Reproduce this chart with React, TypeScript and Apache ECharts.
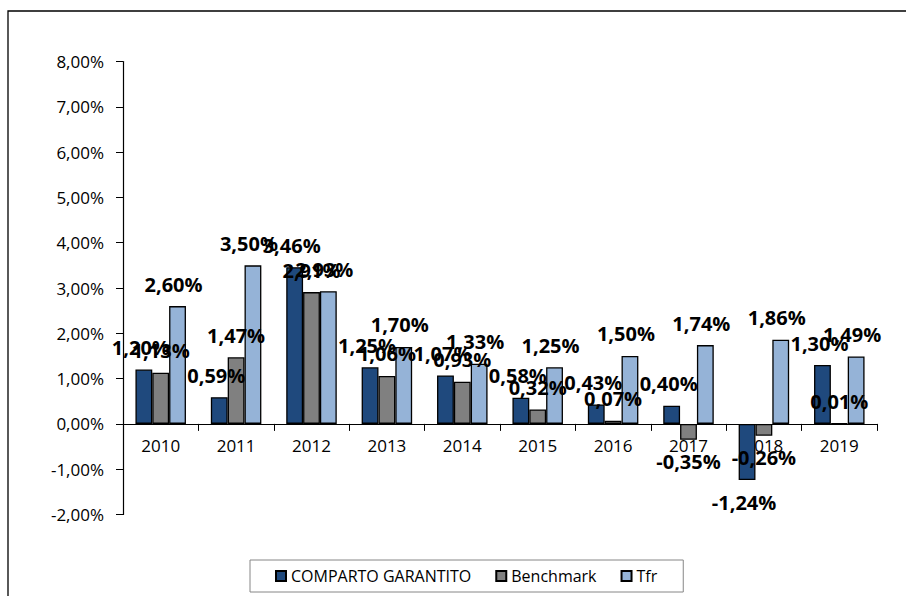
import React, { useEffect, useRef } from 'react';
import * as echarts from 'echarts';

const years = ['2010', '2011', '2012', '2013', '2014', '2015', '2016', '2017', '2018', '2019'];
const comparto = [1.2, 0.59, 3.46, 1.25, 1.07, 0.58, 0.43, 0.4, -1.24, 1.3];
const benchmark = [1.13, 1.47, 2.91, 1.06, 0.93, 0.32, 0.07, -0.35, -0.26, 0.01];
const tfr = [2.6, 3.5, 2.93, 1.7, 1.33, 1.25, 1.5, 1.74, 1.86, 1.49];
const seriesNames = ['COMPARTO GARANTITO', 'Benchmark', 'Tfr'];
const yMin = -2;
const yMax = 8;
const yStep = 1;

const FONT = "'Open Sans', 'Noto Sans', sans-serif";
const fmt = (v: number) => v.toFixed(2).replace('.', ',') + '%';

const GRID_TOP = 61.5;
const GRID_BOTTOM = 81.5;
const H = 596;

export default function App() {
  const ref = useRef<HTMLDivElement>(null);
  useEffect(() => {
    if (!ref.current) return;
    const chart = echarts.init(ref.current, null, { renderer: 'svg' });
    const plotH = H - GRID_TOP - GRID_BOTTOM;
    const zeroFromBottom = (plotH * (0 - yMin)) / (yMax - yMin);
    const mk = (name: string, vals: number[], color: string, offX: number) => ({
      name,
      type: 'bar',
      barGap: '0%',
      barCategoryGap: '33%',
      itemStyle: { color, borderColor: '#000', borderWidth: 1.3 },
      label: {
        show: true,
        position: 'top',
        distance: 12,
        offset: [offX, 0],
        color: '#000',
        fontWeight: 'bold',
        fontSize: 20,
        fontFamily: FONT,
        formatter: (p: any) => fmt(p.value),
      },
      data: vals.map((v) => ({
        value: v,
        label: { position: v < 0 ? 'bottom' : 'top' },
      })),
    });
    chart.setOption({
      animation: false,
      textStyle: { fontFamily: FONT },
      graphic: [
        {
          type: 'rect',
          shape: { x: 8, y: 11, width: 1000, height: 700 },
          style: { fill: 'none', stroke: '#000', lineWidth: 1.3 },
          silent: true,
        },
      ],
      legend: {
        left: 250,
        top: 560,
        orient: 'horizontal',
        borderColor: '#868686',
        borderWidth: 1,
        padding: [8, 26, 8, 25],
        itemGap: 24,
        itemWidth: 10,
        itemHeight: 10,
        icon: 'rect',
        textStyle: { fontSize: 16, color: '#000', fontFamily: FONT },
        data: seriesNames,
      },
      grid: { left: 123, right: 29, top: GRID_TOP, bottom: GRID_BOTTOM, containLabel: false },
      xAxis: {
        type: 'category',
        data: years,
        offset: -zeroFromBottom,
        axisLine: { onZero: false, lineStyle: { color: '#000', width: 1.2 } },
        axisTick: { show: true, length: 7, lineStyle: { color: '#000' } },
        axisLabel: { color: '#000', fontSize: 17, margin: 13, fontFamily: FONT },
      },
      yAxis: {
        type: 'value',
        min: yMin,
        max: yMax,
        interval: yStep,
        axisLine: { show: true, lineStyle: { color: '#000', width: 1.2 } },
        axisTick: { show: true, length: 7, lineStyle: { color: '#000' } },
        splitLine: { show: false },
        axisLabel: { color: '#000', fontSize: 17, margin: 19, fontFamily: FONT, formatter: fmt },
      },
      series: [
        mk(seriesNames[0], comparto, '#1F497D', -3),
        mk(seriesNames[1], benchmark, '#808080', 0),
        mk(seriesNames[2], tfr, '#95B3D7', -4),
      ],
    });
    return () => chart.dispose();
  }, []);
  return (
    <div
      ref={ref}
      style={{ position: 'fixed', left: 0, top: 0, width: 906, height: H, background: '#fff' }}
    />
  );
}
